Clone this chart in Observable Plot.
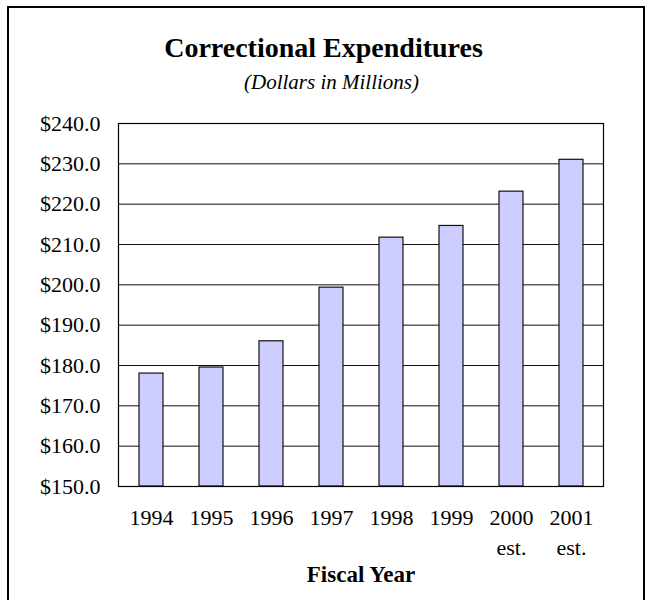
<!DOCTYPE html>
<html><head><meta charset="utf-8">
<script src="https://cdn.jsdelivr.net/npm/d3@7"></script>
<script src="https://cdn.jsdelivr.net/npm/@observablehq/plot@0.6"></script>
<style>
body{margin:0;width:647px;height:600px;overflow:hidden;background:#fff;font-family:"Liberation Serif","Times New Roman",serif;color:#000;}
#frame{position:absolute;left:7px;top:6px;width:638px;height:700px;box-sizing:border-box;border:2px solid #000;}
#title{position:absolute;left:0;width:647px;top:34px;text-align:center;font-weight:bold;font-size:28px;line-height:1;}
#subtitle{position:absolute;left:8px;width:647px;top:72px;text-align:center;font-style:italic;font-size:21px;line-height:1;}
#chart{position:absolute;left:0;top:100px;}
</style></head><body>
<div id="frame"></div>
<div id="title">Correctional Expenditures</div>
<div id="subtitle">(Dollars in Millions)</div>
<div id="chart"></div>
<script>
const years = ["1994","1995","1996","1997","1998","1999","2000","2001"];
const notes = ["","","","","","","est.","est."];
const values = [178.0, 179.5, 186.0, 199.3, 211.7, 214.6, 223.1, 231.0];
const yTicks = [150,160,170,180,190,200,210,220,230,240];
const xTitle = ["Fiscal Year"];

const data = years.map((y,i)=>({year:y, note:notes[i], value:values[i]}));

const chart = Plot.plot({
  width:647, height:500,
  marginTop:23, marginBottom:114, marginLeft:118, marginRight:44,
  style:{fontFamily:"'Liberation Serif','Times New Roman',serif", fontSize:"22px", color:"#000", background:"transparent"},
  x:{domain:years, paddingInner:0.6, paddingOuter:0.3, label:null},
  y:{domain:[yTicks[0], yTicks[yTicks.length-1]], label:null},
  marks:[
    Plot.ruleY(yTicks, {stroke:"#111", strokeWidth:1}),
    Plot.barY(data, {x:"year", y1:yTicks[0], y2:"value", fill:"#CCCCFF", stroke:"#111", strokeWidth:1.2}),
    Plot.frame({stroke:"#000", strokeWidth:1.2}),
    Plot.axisY({ticks:yTicks, tickFormat:d=>"$"+d.toFixed(1), tickSize:0, tickPadding:18, fontSize:22, label:null}),
    Plot.axisX({tickSize:0, tickPadding:23, fontSize:22, label:null}),
    Plot.text(data.filter(d=>d.note), {x:"year", text:"note", frameAnchor:"bottom", lineAnchor:"top", dy:53, fontSize:22, fill:"#000"}),
    Plot.text(xTitle, {text:d=>d, frameAnchor:"bottom", lineAnchor:"top", dy:79.5, fontSize:23, fontWeight:"bold", fill:"#000"})
  ]
});
document.getElementById("chart").appendChild(chart);
</script>
</body></html>
